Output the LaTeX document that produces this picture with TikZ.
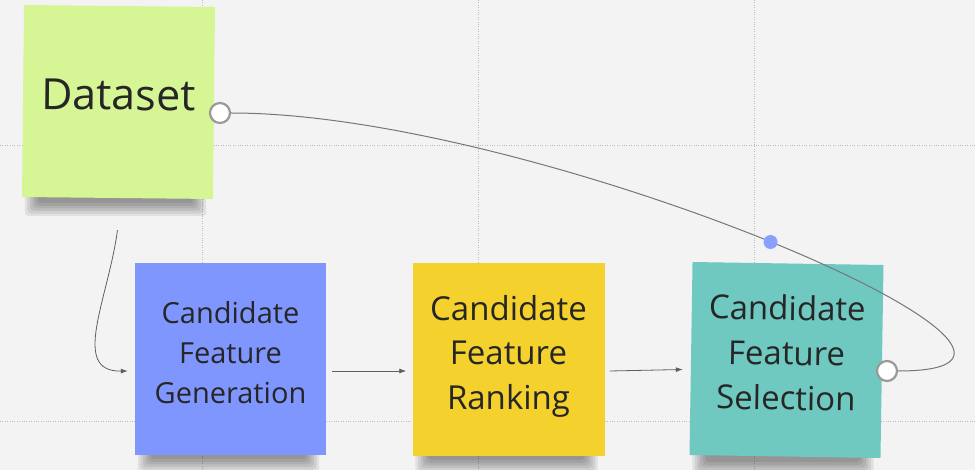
\documentclass[tikz,border=0pt]{standalone}
\usepackage{fontspec}
\setmainfont{Open Sans}
\usetikzlibrary{arrows.meta,calc}
\definecolor{bg}{HTML}{F3F3F3}
\definecolor{gridc}{HTML}{BDBDBD}
\definecolor{sgreen}{RGB}{214,246,150}
\definecolor{sblue}{RGB}{128,150,255}
\definecolor{syellow}{RGB}{245,209,46}
\definecolor{steal}{RGB}{111,201,193}
\definecolor{ink}{HTML}{262626}
\definecolor{wire}{HTML}{5E5E5E}
\definecolor{ringc}{HTML}{9A9A9A}
\definecolor{handlec}{RGB}{138,160,255}
\pgfdeclarelayer{canvaslayer}
\pgfdeclarelayer{shadowlayer}
\pgfsetlayers{canvaslayer,shadowlayer,main}
\newcommand\stk[4]{\raisebox{#1}[0pt][0pt]{\fontsize{#2}{#3}\selectfont\begin{tabular}[t]{@{}c@{}}#4\end{tabular}}}
\begin{document}
\begin{tikzpicture}[x=1pt,y=-1pt,
  sticky/.style={rectangle, inner sep=0pt, text=ink},
  shadowpart/.style={fill=black, fill opacity=0.075, rounded corners=4pt},
  gridline/.style={gridc, line width=0.6pt, dash pattern=on 0.8pt off 1.6pt},
  flow/.style={wire, line width=0.8pt, -{Latex[length=7pt,width=5pt]}},
  link/.style={wire!85, line width=1pt},
  ring/.style={circle, draw=ringc, line width=2.2pt, fill=white, minimum size=20pt, inner sep=0pt},
  dot/.style={circle, fill=handlec, minimum size=14pt, inner sep=0pt}
]
\useasboundingbox (0,0) rectangle (975,470);
\begin{pgfonlayer}{canvaslayer}
\fill[bg] (0,0) rectangle (975,470);
% grid
\draw[gridline] (202,0) -- (202,470);
\draw[gridline] (478,0) -- (478,470);
\draw[gridline] (754,0) -- (754,470);
\draw[gridline] (0,145) -- (975,145);
\draw[gridline] (0,421) -- (975,421);
\end{pgfonlayer}
% stickies
\node[sticky, fill=sgreen, minimum width=191pt, minimum height=192pt, rotate=-0.6] (data) at (118.5,102)
  {\raisebox{-8pt}[0pt][0pt]{\fontsize{43}{50}\selectfont Dataset}};
\node[sticky, fill=sblue, minimum width=191pt, minimum height=192pt] (gen) at (230.5,359)
  {\stk{35pt}{29}{40}{Candidate\\Feature\\Generation}};
\node[sticky, fill=syellow, minimum width=192pt, minimum height=193pt] (rank) at (508.5,359.5)
  {\stk{39.5pt}{33}{45}{Candidate\\Feature\\Ranking}};
\node[sticky, fill=steal, minimum width=191pt, minimum height=193pt, rotate=-0.9] (sel) at (786.5,360)
  {\stk{40pt}{33}{45}{Candidate\\Feature\\Selection}};
% shadows under the stickies
\begin{pgfonlayer}{shadowlayer}
\foreach \s in {data,gen,rank,sel}{
  \foreach \i in {0,...,5}{
    \fill[shadowpart] ($(\s.south west)+({16-2.6*\i},-30)$) rectangle ($(\s.south east)+({-20+2.6*\i},{4+2.6*\i})$);
  }
}
\end{pgfonlayer}
% flow connectors
\coordinate (dstart) at ($(data.south)+(0,32)$);
\coordinate (genin) at ($(gen.west)+(-7,12)$);
\coordinate (genout) at ($(gen.east)+(6,12)$);
\coordinate (rankin) at ($(rank.west)+(-6,11.5)$);
\coordinate (rankout) at ($(rank.east)+(5,11.5)$);
\coordinate (selin) at ($(sel.west)+(-8,11)$);
\draw[flow] (dstart) .. controls (108,300) and (70,372) .. (genin);
\draw[flow] (genout) -- (rankin);
\draw[flow] (rankout) -- (selin);
% loop link
\node[ring] (ra) at (220,113) {};
\node[ring] (rb) at (887,371) {};
\draw[link] (ra.east) .. controls (540,113) and (1140,371) .. (rb.east);
\node[dot] (handle) at (770.5,242) {};
\end{tikzpicture}
\end{document}
